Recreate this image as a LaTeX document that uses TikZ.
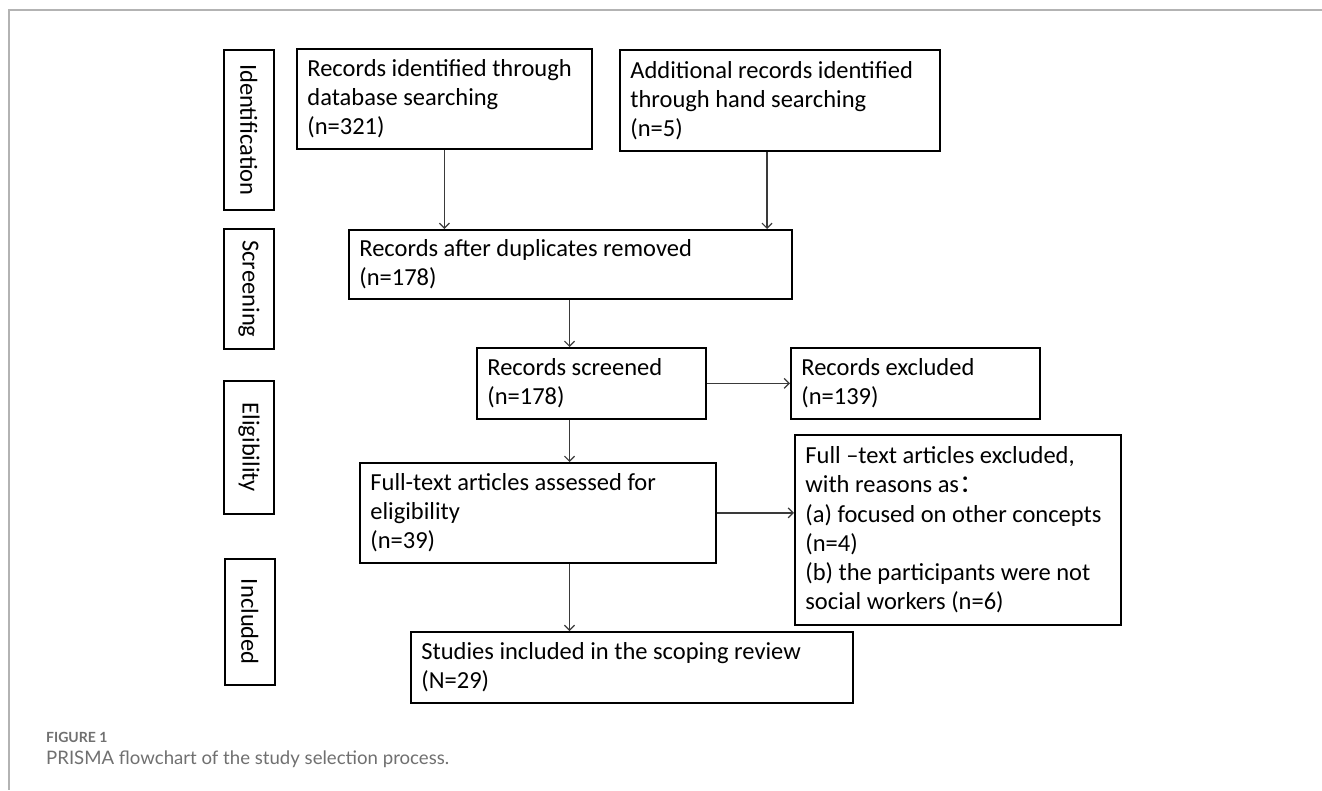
\documentclass[tikz,border=0pt]{standalone}
\usepackage{fontspec}
\setmainfont{Carlito}
\newfontfamily\capfont{Lato}
\newfontfamily\cjkfont{Noto Sans CJK SC}
\usetikzlibrary{arrows.meta}
\definecolor{framegray}{HTML}{B3B3B3}
\definecolor{arrowgray}{HTML}{3A3A3A}
\definecolor{capgray}{HTML}{707070}
\tikzset{
  flowbox/.style={draw=black, line width=1.8pt, anchor=north west, align=flush left,
    inner xsep=10.5pt, inner ysep=0pt, font=\fontsize{24.5}{29.2}\selectfont},
  stagebox/.style={draw=black, line width=1.8pt, anchor=north west, inner sep=0pt,
    font=\fontsize{24.5}{29.2}\selectfont},
  stagetext/.style={rotate=-90, font=\fontsize{24.5}{29.2}\selectfont},
  flowarrow/.style={draw=arrowgray, line width=1.2pt, -{Straight Barb[length=5pt,width=10pt,line width=1.2pt]}},
}
\begin{document}
\begin{tikzpicture}[x=1pt,y=-1pt]
\useasboundingbox (0,0) rectangle (1322,790);
\fill[white] (0,0) rectangle (1322,790);
% frame
\draw[framegray, line width=1.6pt] (1322,10) -- (9,10) -- (9,790);
% stage labels
\node[stagebox, minimum width=50pt, minimum height=160pt] (ident) at (223,49) {};
\node[stagetext] (identt) at (ident.center) {Identification};
\node[stagebox, minimum width=50pt, minimum height=120pt] (scrn) at (223,228) {};
\node[stagetext] (scrnt) at (scrn.center) {Screening};
\node[stagebox, minimum width=50pt, minimum height=133pt] (elig) at (223,380) {};
\node[stagetext] (eligt) at (elig.center) {Eligibility};
\node[stagebox, minimum width=50pt, minimum height=126pt] (incl) at (224,558) {};
\node[stagetext] (inclt) at (incl.center) {Included};
% flow boxes
\node[flowbox, text width=274pt, minimum height=100pt] (rid) at (296,48)
  {Records identified through\\database searching\\(n=321)};
\node[flowbox, text width=299pt, minimum height=101pt] (add) at (619,49)
  {Additional records identified\\through hand searching\\(n=5)};
\node[flowbox, text width=422pt, minimum height=69pt] (dup) at (348,229)
  {Records after duplicates removed\\(n=178)};
\node[flowbox, text width=208pt, minimum height=71pt] (scr) at (476,347)
  {Records screened\\(n=178)};
\node[flowbox, text width=228pt, minimum height=71pt] (exc) at (790,347)
  {Records excluded\\(n=139)};
\node[flowbox, text width=335pt, minimum height=100pt] (ft) at (359,462)
  {Full-text articles assessed for\\eligibility\\(n=39)};
\node[flowbox, text width=305pt, minimum height=190pt] (ftx) at (794,434)
  {Full –text articles excluded,\\with reasons as{\cjkfont ：}\\(a) focused on other concepts\\(n=4)\\(b) the participants were not\\social workers (n=6)};
\node[flowbox, text width=421pt, minimum height=71pt] (inc) at (410,631)
  {Studies included in the scoping review\\(N=29)};
% connectors
\coordinate (spine) at (569.5,0);
\coordinate (addx) at (767,0);
\draw[flowarrow] (rid.south) -- (rid.south |- dup.north);
\draw[flowarrow] (addx |- add.south) -- (addx |- dup.north);
\draw[flowarrow] (spine |- dup.south) -- (spine |- scr.north);
\draw[flowarrow] (scr.east) -- (exc.west);
\draw[flowarrow] (spine |- scr.south) -- (spine |- ft.north);
\draw[flowarrow] (ft.east) -- (ft.east -| ftx.west);
\draw[flowarrow] (spine |- ft.south) -- (spine |- inc.north);
% caption
\node[anchor=base west, inner sep=0pt, text=capgray, font=\capfont\bfseries\fontsize{14}{16}\selectfont] (figlab) at (46,742.5) {FIGURE 1};
\node[anchor=base west, inner sep=0pt, text=capgray, font=\capfont\fontsize{18.6}{22}\selectfont] (figcap) at (46,764) {PRISMA flowchart of the study selection process.};
\end{tikzpicture}
\end{document}
